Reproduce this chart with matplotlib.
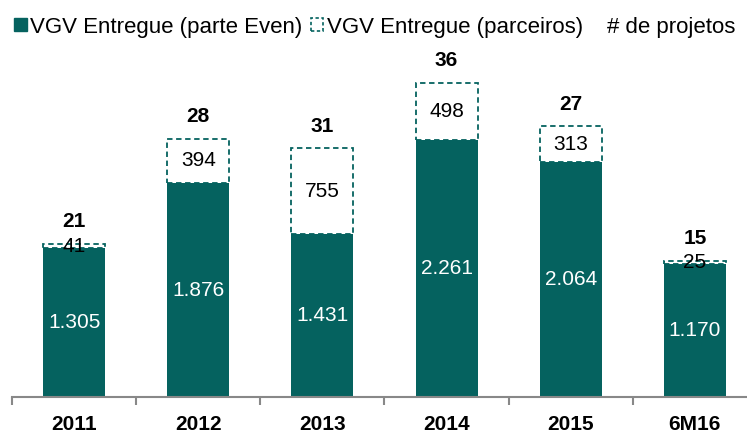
import matplotlib
matplotlib.use("Agg")
import matplotlib.pyplot as plt
from matplotlib.patches import Patch
from matplotlib.lines import Line2D

categories = ["2011", "2012", "2013", "2014", "2015", "6M16"]
vgv_even = [1305, 1876, 1431, 2261, 2064, 1170]
vgv_parceiros = [41, 394, 755, 498, 313, 25]
n_projetos = [21, 28, 31, 36, 27, 15]

TEAL = "#05625F"
plt.rcParams["font.family"] = ["Liberation Sans", "DejaVu Sans"]

def fmt(v):
    return f"{v:,}".replace(",", ".")

fig = plt.figure(figsize=(7.47, 4.33), dpi=100)
W, H = 747, 433
ax = fig.add_axes([12 / W, 36 / H, 745 / W, 353 / H])
x = list(range(len(categories)))
bw = 0.5
ax.bar(x, vgv_even, width=bw, color=TEAL, zorder=2)
ax.bar(x, vgv_parceiros, width=bw, bottom=vgv_even, facecolor="white",
       edgecolor=TEAL, linestyle=(0, (3, 2)), linewidth=1.3, zorder=2)

for i in x:
    ax.text(i, vgv_even[i] / 2, fmt(vgv_even[i]), ha="center", va="center",
            color="white", fontsize=15)
    ax.text(i, vgv_even[i] + vgv_parceiros[i] / 2, fmt(vgv_parceiros[i]),
            ha="center", va="center", color="black", fontsize=15, zorder=3)
    ax.annotate(str(n_projetos[i]), (i, vgv_even[i] + vgv_parceiros[i]),
                xytext=(0, 9), textcoords="offset points", ha="center",
                va="bottom", fontsize=15, fontweight="bold")

ax.set_xlim(-0.5, len(categories) - 0.5)
ax.set_ylim(0, 3100)
for s in ["top", "right", "left"]:
    ax.spines[s].set_visible(False)
ax.spines["bottom"].set_color("#888888")
ax.spines["bottom"].set_linewidth(1.5)
ax.set_yticks([])
ax.set_xticks([i - 0.5 for i in range(len(categories) + 1)], minor=False)
ax.set_xticklabels([])
ax.tick_params(axis="x", which="major", length=6, color="#888888", width=1.5,
               direction="out")
ax.set_xticks(x, minor=True)
ax.set_xticklabels(categories, minor=True, fontsize=15, fontweight="bold")
ax.tick_params(axis="x", which="minor", length=0, pad=13)

handles = [
    Patch(facecolor=TEAL, edgecolor=TEAL),
    Patch(facecolor="white", edgecolor=TEAL, linestyle=(0, (2, 1.5)), linewidth=1.2),
    Line2D([], [], linestyle="none"),
]
labels = ["VGV Entregue (parte Even)", "VGV Entregue (parceiros)", "# de projetos"]
fig.legend(handles, labels, loc="center", bbox_to_anchor=(375 / W, 1 - 27 / H),
           ncol=3, frameon=False, fontsize=16, handlelength=0.55,
           handleheight=0.55, handletextpad=0.15, columnspacing=0.4)

fig.savefig("out.png", dpi=100)
